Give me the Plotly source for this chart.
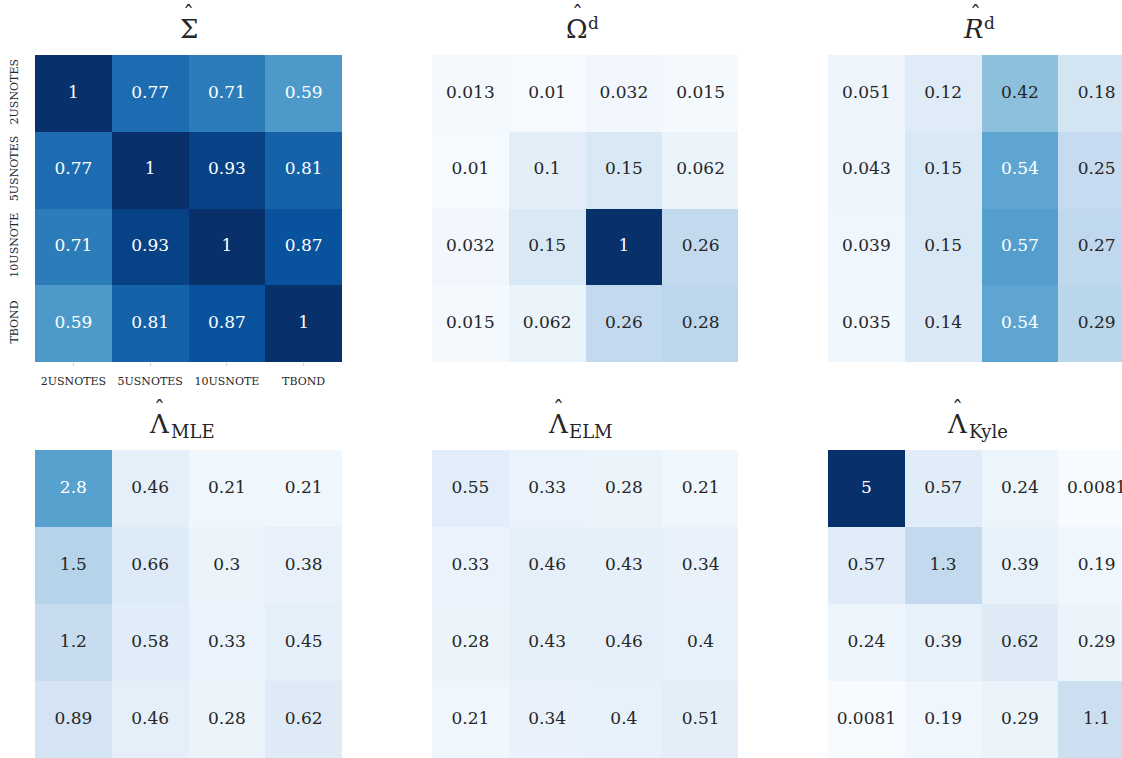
import plotly.graph_objects as go

labels = ["2USNOTES", "5USNOTES", "10USNOTE", "TBOND"]

sigma = [[1, 0.77, 0.71, 0.59],
         [0.77, 1, 0.93, 0.81],
         [0.71, 0.93, 1, 0.87],
         [0.59, 0.81, 0.87, 1]]
omega_d = [[0.013, 0.01, 0.032, 0.015],
           [0.01, 0.1, 0.15, 0.062],
           [0.032, 0.15, 1, 0.26],
           [0.015, 0.062, 0.26, 0.28]]
r_d = [[0.051, 0.12, 0.42, 0.18],
       [0.043, 0.15, 0.54, 0.25],
       [0.039, 0.15, 0.57, 0.27],
       [0.035, 0.14, 0.54, 0.29]]
lam_mle = [[2.8, 0.46, 0.21, 0.21],
           [1.5, 0.66, 0.3, 0.38],
           [1.2, 0.58, 0.33, 0.45],
           [0.89, 0.46, 0.28, 0.62]]
lam_elm = [[0.55, 0.33, 0.28, 0.21],
           [0.33, 0.46, 0.43, 0.34],
           [0.28, 0.43, 0.46, 0.4],
           [0.21, 0.34, 0.4, 0.51]]
lam_kyle = [[5, 0.57, 0.24, 0.0081],
            [0.57, 1.3, 0.39, 0.19],
            [0.24, 0.39, 0.62, 0.29],
            [0.0081, 0.19, 0.29, 1.1]]

# title parts: main symbol, script text, script kind
title_symbols = ["Σ", "Ω", "<i>R</i>", "Λ", "Λ", "Λ"]
title_scripts = ["", "d", "d", "MLE", "ELM", "Kyle"]
title_kinds = ["", "sup", "sup", "sub", "sub", "sub"]
sym_offsets = [0, -8, -8, -29, -27, -24]  # symbol center offset from panel center (px)

panels = [sigma, omega_d, r_d, lam_mle, lam_elm, lam_kyle]
zmaxes = [1, 1, 1, 5, 5, 5]

blues = ["#f7fbff", "#deebf7", "#c6dbef", "#9ecae1", "#6baed6",
         "#4292c6", "#2171b5", "#08519c", "#08306b"]
colorscale = [[i / 8, c] for i, c in enumerate(blues)]


def hex2rgb(h):
    return [int(h[i:i + 2], 16) / 255 for i in (1, 3, 5)]


def cmap(t):
    t = min(max(t, 0), 1)
    p = t * 8
    i = min(int(p), 7)
    f = p - i
    a, b = hex2rgb(blues[i]), hex2rgb(blues[i + 1])
    return [a[k] + (b[k] - a[k]) * f for k in range(3)]


def lum(rgb):
    lin = [c / 12.92 if c <= 0.03928 else ((c + 0.055) / 1.055) ** 2.4 for c in rgb]
    return 0.2126 * lin[0] + 0.7152 * lin[1] + 0.0722 * lin[2]


W, H = 1122, 758
cell = 76.75
col_px = [(35, 342), (432, 738), (828, 1122)]
row_px = [(55, 362), (450, 758)]
SERIF = "DejaVu Serif"
TXT = "#262626"

fig = go.Figure()
annotations = []


def px_ann(text, x, y, size, xanchor="center"):
    annotations.append(dict(text=text, x=x / W, y=1 - y / H, xref="paper", yref="paper",
                            xanchor=xanchor, yanchor="middle", showarrow=False,
                            font=dict(family=SERIF, size=size, color=TXT)))


for k, (z, zmax) in enumerate(zip(panels, zmaxes)):
    r, c = divmod(k, 3)
    x0, x1 = col_px[c]
    y0, y1 = row_px[r]
    ax = "" if k == 0 else str(k + 1)
    xa, ya = "x" + ax, "y" + ax
    xs, ys, txt, cols = [], [], [], []
    for i in range(4):
        for j in range(4):
            v = z[i][j]
            xs.append(j)
            ys.append(i)
            txt.append("{:.2g}".format(v))
            cols.append(TXT if lum(cmap(v / zmax)) > 0.408 else "white")
    fig.add_trace(go.Heatmap(z=z, x=[0, 1, 2, 3], y=[0, 1, 2, 3], zmin=0, zmax=zmax,
                             colorscale=colorscale, showscale=False, hoverinfo="skip",
                             xaxis=xa, yaxis=ya))
    fig.add_trace(go.Scatter(x=xs, y=ys, mode="text", text=txt,
                             textfont=dict(family=SERIF, size=17, color=cols),
                             hoverinfo="skip", showlegend=False, xaxis=xa, yaxis=ya))
    ncells = (x1 - x0) / cell
    first = k == 0
    fig.layout["xaxis" + ax] = dict(
        domain=[x0 / W, x1 / W], range=[-0.5, -0.5 + ncells], anchor=ya,
        showgrid=False, zeroline=False, showline=False,
        tickmode="array", tickvals=[0, 1, 2, 3], ticktext=labels,
        showticklabels=first, ticks="outside" if first else "", ticklen=3,
        tickcolor="#d0d0d0", ticklabelstandoff=6,
        tickfont=dict(family=SERIF, size=11, color=TXT))
    fig.layout["yaxis" + ax] = dict(
        domain=[1 - y1 / H, 1 - y0 / H], range=[3.5, -0.5], anchor=xa,
        showgrid=False, zeroline=False, showline=False,
        tickmode="array", tickvals=[0, 1, 2, 3], ticktext=labels,
        showticklabels=first, ticks="",
        tickangle=-90, ticklabelstandoff=14,
        tickfont=dict(family=SERIF, size=11, color=TXT))

    # title
    cx = x0 + 153.5
    sx = cx + sym_offsets[k]
    ty = y0 - 26
    px_ann(title_symbols[k], sx, ty, 26)
    px_ann("ˆ", sx + (2 if k == 2 else 0), ty - 15, 22)
    if title_kinds[k] == "sup":
        px_ann(title_scripts[k], sx + 8, ty - 6, 17, xanchor="left")
    elif title_kinds[k] == "sub":
        px_ann(title_scripts[k], sx + 9, ty + 7, 18, xanchor="left")

fig.update_layout(width=W, height=H, margin=dict(l=0, r=0, t=0, b=0),
                  paper_bgcolor="white", plot_bgcolor="white",
                  showlegend=False, annotations=annotations)
fig.write_html("out.html")
